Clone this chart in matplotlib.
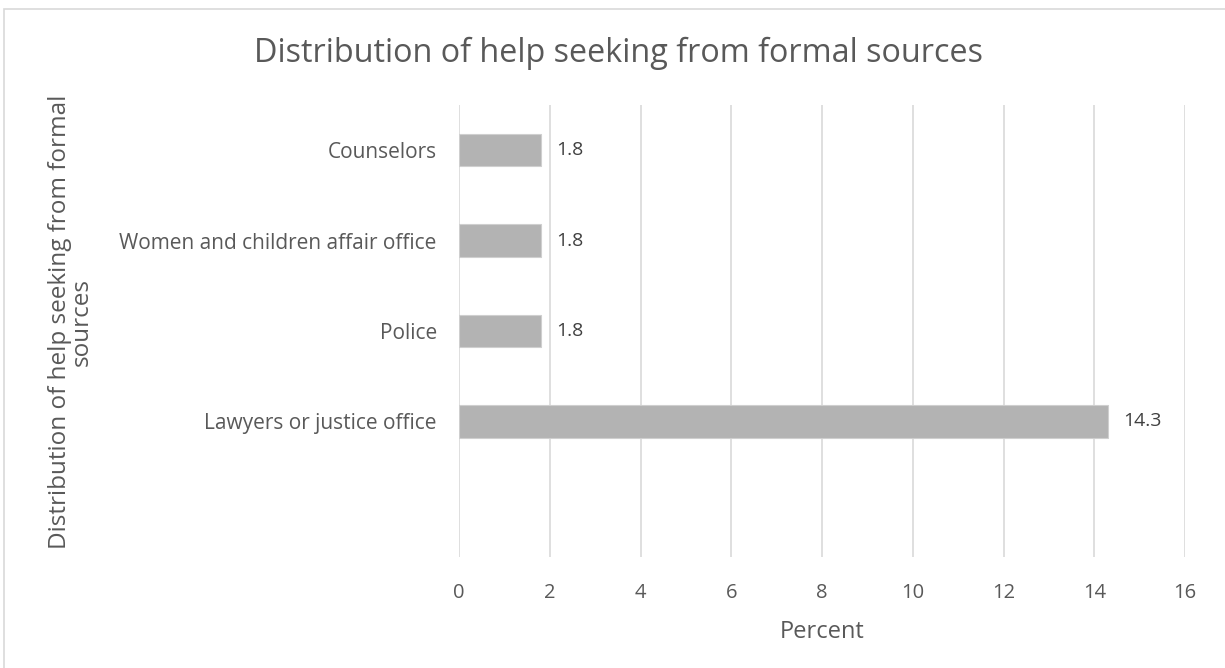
import matplotlib
matplotlib.use("Agg")
import matplotlib.pyplot as plt
import numpy as np

categories = ["", "Lawyers or justice office", "Police", "Women and children affair office", "Counselors"]
values = [np.nan, 14.3, 1.8, 1.8, 1.8]
xticks = [0, 2, 4, 6, 8, 10, 12, 14, 16]

plt.rcParams['font.family'] = ['Open Sans', 'DejaVu Sans']
txt = '#595959'

fig = plt.figure(figsize=(12.25, 6.68), dpi=100)
ax = fig.add_axes([459/1225, 1-557/668, (1185-459)/1225, (557-105)/668])

y = np.arange(len(categories))
ax.barh(y, values, height=0.36, color='#b3b3b3', edgecolor='#cfcfcf', linewidth=0.8, zorder=3)
for yi, v in zip(y, values):
    if not np.isnan(v):
        ax.annotate(f"{v:.1f}", (v, yi), xytext=(11, 0), textcoords='offset points',
                    va='center', ha='left', fontsize=14, color='#404040')

ax.set_xlim(0, 16)
ax.set_ylim(-0.5, len(categories) - 0.5)
ax.set_xticks(xticks)
ax.set_xticklabels([str(t) for t in xticks], fontsize=14.5, color=txt)
ax.set_yticks(y)
ax.set_yticklabels(categories, fontsize=15, color=txt)
ax.tick_params(axis='y', length=0, pad=16)
ax.tick_params(axis='x', length=0, pad=19)
ax.xaxis.grid(True, color='#d9d9d9', linewidth=1.2, zorder=0)
for s in ax.spines.values():
    s.set_visible(False)

ax.set_xlabel("Percent", fontsize=17, color=txt, labelpad=12)
fig.text(71/1225, 1-322/668, "Distribution of help seeking from formal\nsources", rotation=90,
         ha='center', va='center', fontsize=17.5, color=txt, linespacing=0.85, multialignment='center')
fig.text(618/1225, 1-53/668, "Distribution of help seeking from formal sources", ha='center', va='center',
         fontsize=23.3, color=txt)

fig.patches.append(plt.Rectangle((4/1225, -0.01), 1.02, 1-9/668 + 0.01, transform=fig.transFigure,
                                 fill=False, edgecolor='#d9d9d9', linewidth=1.2))

fig.savefig("out.png", dpi=100)
